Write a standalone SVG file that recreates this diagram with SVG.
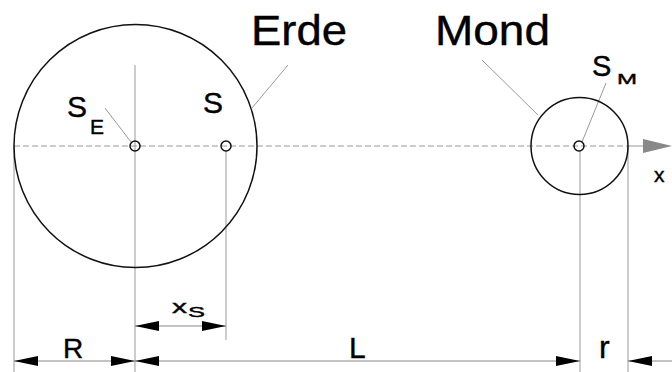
<svg xmlns="http://www.w3.org/2000/svg" width="672" height="372" viewBox="0 0 672 372">
<style>
.body{fill:none;stroke:#111;stroke-width:1.5}
.thin{fill:none;stroke:#999;stroke-width:1}
.axis{fill:none;stroke:#999;stroke-width:1.2;stroke-dasharray:6 3}
.dim{fill:none;stroke:#888;stroke-width:1.2}
.ah{fill:#000}
.t{font-family:"Liberation Sans",Arial,sans-serif;fill:#000;stroke:#000;stroke-width:0.4}
</style>
<rect width="672" height="372" fill="#fff"/>
<g id="connectors">
  <line class="axis" x1="14" y1="146" x2="628" y2="146"/>
  <line class="thin" x1="628" y1="146" x2="644" y2="146"/>
  <polygon points="643,139 672,146 643,153" fill="#888"/>
  <line class="thin" x1="14" y1="146" x2="14" y2="372"/>
  <line class="thin" x1="135" y1="65" x2="135" y2="372"/>
  <line class="thin" x1="226" y1="151" x2="226" y2="340"/>
  <line class="thin" x1="580" y1="151" x2="580" y2="372"/>
  <line class="thin" x1="628" y1="146" x2="628" y2="372"/>
  <line class="thin" x1="105" y1="108" x2="131" y2="142"/>
  <line class="thin" x1="288" y1="65" x2="252" y2="108"/>
  <line class="thin" x1="482" y1="60" x2="538" y2="115"/>
  <line class="thin" x1="606" y1="83" x2="582" y2="142"/>
  <line class="dim" x1="135" y1="326" x2="226" y2="326"/>
  <polygon class="ah" points="135,326 159,321 159,331"/>
  <polygon class="ah" points="226,326 202,321 202,331"/>
  <line class="dim" x1="14" y1="361" x2="580" y2="361"/>
  <polygon class="ah" points="14,361 38,356 38,366"/>
  <polygon class="ah" points="135,361 111,356 111,366"/>
  <polygon class="ah" points="135,361 159,356 159,366"/>
  <polygon class="ah" points="580,361 556,356 556,366"/>
  <line class="dim" x1="628" y1="361" x2="672" y2="361"/>
  <polygon class="ah" points="628,361 652,356 652,366"/>
</g>
<g id="erde">
  <circle class="body" cx="135.5" cy="146" r="121.5"/>
  <text class="t" x="251" y="45" font-size="42" textLength="96" lengthAdjust="spacingAndGlyphs">Erde</text>
</g>
<g id="se">
  <circle class="body" cx="135" cy="146" r="5"/>
  <text class="t" x="67" y="117" font-size="30">S</text>
  <text class="t" x="90" y="134" font-size="21">E</text>
</g>
<g id="s">
  <circle class="body" cx="226" cy="146" r="5"/>
  <text class="t" x="203" y="113" font-size="30">S</text>
</g>
<g id="mond">
  <circle class="body" cx="579.5" cy="146" r="48.5"/>
  <text class="t" x="435" y="45" font-size="42" textLength="115" lengthAdjust="spacingAndGlyphs">Mond</text>
</g>
<g id="sm">
  <circle class="body" cx="579" cy="146" r="5"/>
  <text class="t" x="592" y="76" font-size="29">S</text>
  <text class="t" x="617" y="84" font-size="15" textLength="20" lengthAdjust="spacingAndGlyphs">M</text>
</g>
<g id="xaxis">
  <text class="t" x="654" y="182" font-size="21">x</text>
</g>
<g id="xs">
  <text class="t" x="172" y="313" font-size="19" textLength="15" lengthAdjust="spacingAndGlyphs">x</text>
  <text class="t" x="188" y="317" font-size="15" textLength="17" lengthAdjust="spacingAndGlyphs">S</text>
</g>
<g id="dimR"><text class="t" x="63" y="358" font-size="28">R</text></g>
<g id="dimL"><text class="t" x="349" y="358" font-size="30">L</text></g>
<g id="dimr"><text class="t" x="599" y="358" font-size="32">r</text></g>
</svg>
